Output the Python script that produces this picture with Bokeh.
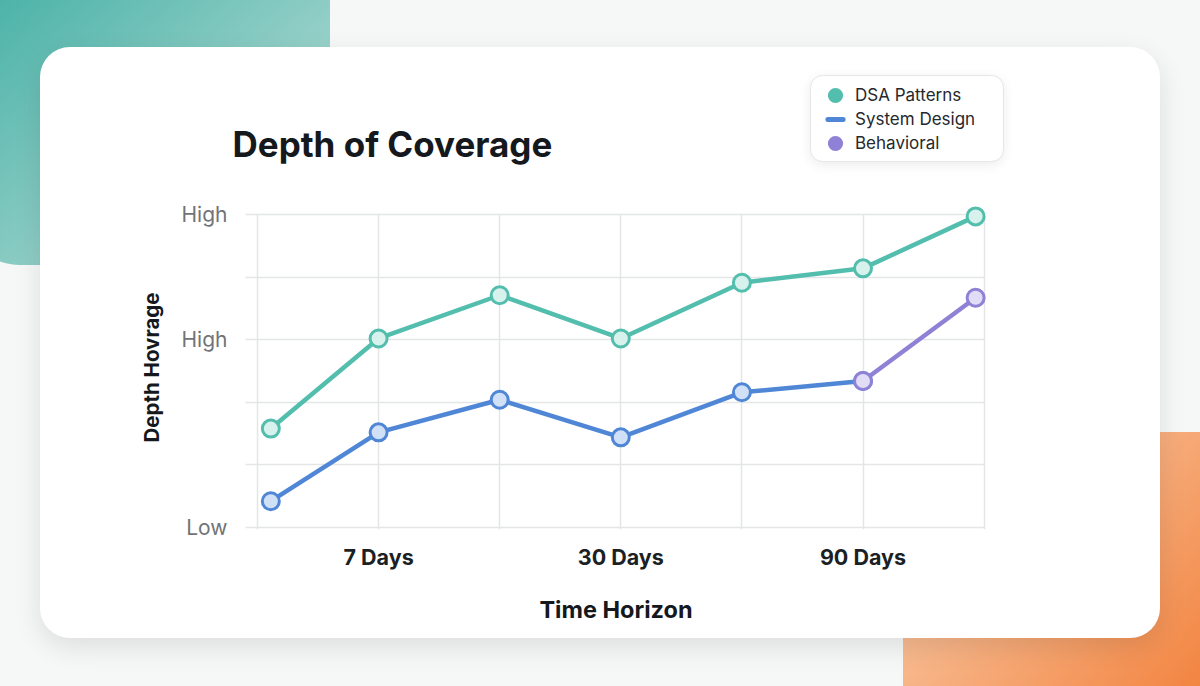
import base64
from bokeh.plotting import figure
from bokeh.layouts import column
from bokeh.models import (Range1d, FixedTicker, Legend, LegendItem, ColumnDataSource,
                          GlobalInlineStyleSheet, Label, Grid)
from bokeh.embed import file_html
from bokeh.resources import INLINE

# ---------------- data ----------------
x_ticks = [0, 1, 2, 3, 4, 5, 6]
x_tick_labels = ["", "7 Days", "", "30 Days", "", "90 Days", ""]
y_ticks = [0, 1, 2, 3, 4, 5]
y_tick_labels = ["Low", "", "", "High", "", "High"]

dsa_x = [0.11, 1, 2, 3, 4, 5, 5.93]
dsa_y = [1.58, 3.02, 3.71, 3.02, 3.91, 4.14, 4.97]
sys_x = [0.11, 1, 2, 3, 4, 5]
sys_y = [0.42, 1.52, 2.04, 1.44, 2.16, 2.34]
beh_x = [5, 5.93]
beh_y = [2.34, 3.67]

series_names = ["DSA Patterns", "System Design", "Behavioral"]
title_text = "Depth of Coverage"

# ---------------- style ----------------
TEAL, TEAL_FILL = "#53bead", "#d7f1ec"
BLUE, BLUE_FILL = "#4f87d6", "#d0e0f7"
PURP, PURP_FILL = "#8f81d5", "#e2ddf6"
FONT = "Inter"
W = 1184
TOP_H = 190
MAIN_H = 670 - TOP_H
FRAME_L, FRAME_R = 230, 1001          # shared (aligned) frame edges, px
PX_X = 121.1                          # px per x unit, x=0 at 257
PX_Y = 62.6                           # px per y unit, y=0 at 527

# decorative page background (blobs, card, legend box)
svg = """<svg xmlns="http://www.w3.org/2000/svg" width="1200" height="686" viewBox="0 0 1200 686">
<defs>
<linearGradient id="tg" x1="0" y1="0" x2="1" y2="1">
<stop offset="0" stop-color="#38aba0"/><stop offset="0.6" stop-color="#8ecdc5"/><stop offset="1" stop-color="#c8e6e2"/>
</linearGradient>
<linearGradient id="og" x1="0" y1="0" x2="0.75" y2="0.65">
<stop offset="0" stop-color="#fbd8bb"/><stop offset="1" stop-color="#f2833f"/>
</linearGradient>
<filter id="sh" x="-10%" y="-10%" width="120%" height="130%"><feGaussianBlur stdDeviation="14"/></filter>
<filter id="sh2" x="-20%" y="-20%" width="140%" height="160%"><feGaussianBlur stdDeviation="6"/></filter>
</defs>
<rect width="1200" height="686" fill="#f6f7f7"/>
<rect x="-40" y="-60" width="370" height="325" rx="60" fill="url(#tg)"/>
<rect x="903" y="432" width="400" height="400" rx="55" fill="url(#og)"/>
<rect x="40" y="56" width="1120" height="591" rx="30" fill="#000" opacity="0.10" filter="url(#sh)"/>
<rect x="40" y="47" width="1120" height="591" rx="30" fill="#ffffff"/>
<rect x="810" y="78" width="194" height="87" rx="12" fill="#000" opacity="0.07" filter="url(#sh2)"/>
<rect x="810.5" y="75.5" width="193" height="86" rx="12" fill="#ffffff" stroke="#e4e6e8"/>
</svg>"""
b64 = base64.b64encode(svg.encode("utf-8")).decode("ascii")
css = ("html { background: #f6f7f7 url('data:image/svg+xml;base64,%s') no-repeat 0 0; }"
       " body { background: transparent; }") % b64

dsa = ColumnDataSource(dict(x=dsa_x, y=dsa_y))
sysd = ColumnDataSource(dict(x=sys_x, y=sys_y))
beh = ColumnDataSource(dict(x=beh_x, y=beh_y))

# ---------------- header figure: title + legend ----------------
top = figure(width=W, height=TOP_H, x_range=Range1d(0, 1), y_range=Range1d(0, 1),
             output_backend="svg", toolbar_location=None, title=None,
             x_axis_type=None, y_axis_type=None,
             min_border_left=FRAME_L, min_border_right=W - FRAME_R,
             min_border_top=0, min_border_bottom=0,
             border_fill_color=None, background_fill_color=None,
             outline_line_color=None)
top.grid.visible = False

# screen units: px from the frame's bottom-left corner
top.add_layout(Label(x=232 - FRAME_L, y=TOP_H - 143, x_units="screen", y_units="screen",
                     text=title_text, text_align="left", text_baseline="alphabetic",
                     text_font=FONT, text_font_size="35px", text_font_style="bold",
                     text_color="#15181c"))

lg_dsa = top.scatter("x", "y", source=dsa, marker="circle",
                     fill_color=TEAL, line_color=None, visible=False)
lg_sys = top.scatter("x", "y", source=sysd, marker="dash",
                     line_color=BLUE, line_width=5, line_cap="round", visible=False)
lg_beh = top.scatter("x", "y", source=beh, marker="circle",
                     fill_color=PURP, line_color=None, visible=False)

for k, (name, r) in enumerate(zip(series_names, [lg_dsa, lg_sys, lg_beh])):
    leg = Legend(items=[LegendItem(label=name, renderers=[r])],
                 location=(816 - FRAME_L, TOP_H - 114 - 24 * k),
                 glyph_width=38, glyph_height=38, label_height=20,
                 padding=0, margin=0, label_standoff=1,
                 label_text_font=FONT, label_text_font_size="17px",
                 label_text_color="#25282c",
                 background_fill_alpha=0, border_line_color=None,
                 inactive_fill_alpha=0)
    top.add_layout(leg)

# ---------------- main chart ----------------
p = figure(width=W, height=MAIN_H,
           x_range=Range1d((FRAME_L - 257) / PX_X, (FRAME_R - 257) / PX_X),
           y_range=Range1d(-2 / PX_Y, (527 - 205) / PX_Y),
           output_backend="svg", toolbar_location=None, title=None,
           min_border_left=FRAME_L, min_border_right=W - FRAME_R,
           min_border_top=205 - TOP_H, min_border_bottom=MAIN_H - (529 - TOP_H),
           border_fill_color=None, background_fill_color=None,
           outline_line_color=None)
p.stylesheets = [GlobalInlineStyleSheet(css=css)]

for ax in (p.xaxis[0], p.yaxis[0]):
    ax.axis_line_color = None
    ax.major_tick_line_color = None
    ax.minor_tick_line_color = None
    ax.major_tick_out = 0
    ax.major_tick_in = 0
    ax.minor_tick_out = 0
    ax.minor_tick_in = 0
    ax.axis_label_text_font = FONT
    ax.axis_label_text_font_style = "bold"
    ax.axis_label_text_color = "#15181c"
    ax.major_label_text_font = FONT

p.xaxis.ticker = FixedTicker(ticks=x_ticks)
p.xaxis.major_label_overrides = {t: l for t, l in zip(x_ticks, x_tick_labels)}
p.xaxis.major_label_text_font_size = "21.5px"
p.xaxis.major_label_text_font_style = "bold"
p.xaxis.major_label_text_color = "#1c1f23"
p.xaxis.major_label_standoff = 14
p.xaxis.axis_label = "Time Horizon"
p.xaxis.axis_label_text_font_size = "23.5px"
p.xaxis.axis_label_standoff = 22

p.yaxis.ticker = FixedTicker(ticks=y_ticks)
p.yaxis.major_label_overrides = {t: l for t, l in zip(y_ticks, y_tick_labels)}
p.yaxis.major_label_text_font_size = "21px"
p.yaxis.major_label_text_color = "#707478"
p.yaxis.major_label_standoff = 3
p.yaxis.axis_label = "Depth Hovrage"
p.yaxis.axis_label_text_font_size = "20.5px"
p.yaxis.axis_label_standoff = 15

GRID = "#e3e5e7"
x_left = (245 - 257) / PX_X   # grid lines start a little left of x=0
if "cross_bounds" in Grid.properties():
    for g in (p.xgrid[0], p.ygrid[0]):
        g.grid_line_color = GRID
        g.grid_line_width = 1.5
    p.xgrid.cross_bounds = (p.y_range.start, y_ticks[-1])
    p.ygrid.cross_bounds = (x_left, x_ticks[-1])
else:
    p.grid.visible = False
    p.segment(x0=x_ticks, x1=x_ticks, y0=[p.y_range.start] * len(x_ticks),
              y1=[y_ticks[-1]] * len(x_ticks), line_color=GRID, line_width=1.5,
              level="underlay")
    p.segment(x0=[x_left] * len(y_ticks), x1=[x_ticks[-1]] * len(y_ticks),
              y0=y_ticks, y1=y_ticks, line_color=GRID, line_width=1.5,
              level="underlay")

p.line("x", "y", source=dsa, line_color=TEAL, line_width=4.5)
p.line("x", "y", source=sysd, line_color=BLUE, line_width=4.5)
p.line("x", "y", source=beh, line_color=PURP, line_width=4.5)
p.scatter("x", "y", source=sysd, size=17, fill_color=BLUE_FILL, line_color=BLUE, line_width=3)
p.scatter("x", "y", source=beh, size=17, fill_color=PURP_FILL, line_color=PURP, line_width=3)
p.scatter("x", "y", source=dsa, size=17, fill_color=TEAL_FILL, line_color=TEAL, line_width=3)

layout = column(top, p, spacing=0)
open("out.html", "w").write(file_html(layout, INLINE))
